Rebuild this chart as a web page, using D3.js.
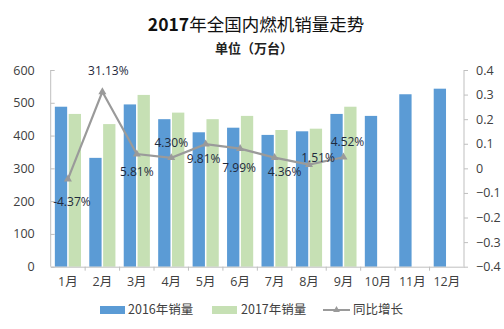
<!DOCTYPE html>
<html>
<head>
<meta charset="utf-8">
<script src="https://cdn.jsdelivr.net/npm/d3@7/dist/d3.min.js"></script>
<style>
html,body{margin:0;padding:0;background:#fff;}
svg{display:block;}
text{font-family:"Noto Sans CJK SC","Open Sans",sans-serif;}
</style>
</head>
<body>
<svg id="chart" width="504" height="329"></svg>
<script>
const months = ["1月","2月","3月","4月","5月","6月","7月","8月","9月","10月","11月","12月"];
const sales2016 = [488,332,495,450,410,424,402,413,466,460,526,543];
const sales2017 = [466,435,524,470,450,460,417,421,488];
const growth = [-0.0437,0.3113,0.0581,0.0430,0.0981,0.0799,0.0436,0.0151,0.0452];
const growthLabels = ["-4.37%","31.13%","5.81%","4.30%","9.81%","7.99%","4.36%","1.51%","4.52%"];
const leftTicks = [0,100,200,300,400,500,600];
const rightTicks = [-0.4,-0.3,-0.2,-0.1,0,0.1,0.2,0.3,0.4];
const seriesNames = ["2016年销量","2017年销量","同比增长"];
// label offsets (dx, dy) relative to point
const labelOffsets = [[4,23],[6,-21],[0,18],[0,-15],[-2,15],[-1,19],[10,14],[9,-7],[4,-15]];

const colors = {b2016:"#5b9bd5", b2017:"#c6e0b4", line:"#9a9a9a", axis:"#bfbfbf", text:"#404040", label:"#1f2a3d"};
const svg = d3.select("#chart");

const plot = {left:50.7, right:464, top:70, bottom:266.7};

const x0 = d3.scaleBand().domain(months).range([plot.left, plot.right]).padding(0);
const x1 = d3.scaleBand().domain(["2016","2017"]).range([0, x0.bandwidth()]).paddingInner(0.11).paddingOuter(0.30);
const yL = d3.scaleLinear().domain([0,600]).range([plot.bottom, plot.top]);
const yR = d3.scaleLinear().domain([-0.4,0.4]).range([plot.bottom, plot.top]);

// Title
const t = svg.append("text").attr("x",256).attr("y",30.5).attr("text-anchor","middle")
  .attr("font-size",17.5).attr("fill","#111");
t.append("tspan").attr("font-weight","bold").text("2017");
t.append("tspan").attr("font-weight","normal").text("年全国内燃机销量走势");
svg.append("text").attr("x",254).attr("y",53).attr("text-anchor","middle")
  .attr("font-size",13).attr("font-weight","bold").attr("fill","#222")
  .text("单位（万台）");

// Bars
const g = svg.append("g");
g.selectAll("rect.b16").data(sales2016).join("rect").attr("class","b16")
  .attr("x",(d,i)=>x0(months[i])+x1("2016")).attr("width",x1.bandwidth())
  .attr("y",d=>yL(d)).attr("height",d=>yL(0)-yL(d)).attr("fill",colors.b2016);
g.selectAll("rect.b17").data(sales2017).join("rect").attr("class","b17")
  .attr("x",(d,i)=>x0(months[i])+x1("2017")).attr("width",x1.bandwidth())
  .attr("y",d=>yL(d)).attr("height",d=>yL(0)-yL(d)).attr("fill",colors.b2017);

// Axes
const axL = svg.append("g").attr("transform",`translate(${plot.left},0)`)
  .call(d3.axisLeft(yL).tickValues(leftTicks).tickSize(-4).tickPadding(16));
const axR = svg.append("g").attr("transform",`translate(${plot.right},0)`)
  .call(d3.axisRight(yR).tickValues(rightTicks).tickSize(4).tickPadding(8).tickFormat(d=>d3.format("~g")(Math.round(d*10)/10)));
const axB = svg.append("g").attr("transform",`translate(0,${plot.bottom})`)
  .call(d3.axisBottom(x0).tickSize(0).tickPadding(10));
// bottom tick marks at band boundaries
svg.append("g").selectAll("line").data(months.slice(1)).join("line")
  .attr("x1",d=>x0(d)).attr("x2",d=>x0(d)).attr("y1",plot.bottom).attr("y2",plot.bottom+4)
  .attr("stroke",colors.axis);
[axL,axR,axB].forEach(a=>{
  a.selectAll("path").attr("stroke",colors.axis);
  a.selectAll("line").attr("stroke",colors.axis);
  a.selectAll("text").attr("fill",colors.text).attr("font-size",12.5)
    .style("font-family","'Open Sans','Noto Sans CJK SC',sans-serif");
});
axL.selectAll("text").attr("text-anchor","end");
axR.select("path").attr("d",`M0,${plot.top}V${plot.bottom}`);
axL.select("path").attr("d",`M0,${plot.top}V${plot.bottom}`);

// Line
const cx = i => x0(months[i]) + x0.bandwidth()/2;
const line = d3.line().x((d,i)=>cx(i)).y(d=>yR(d));
svg.append("path").datum(growth).attr("d",line).attr("fill","none")
  .attr("stroke",colors.line).attr("stroke-width",2.2);
const tri = d3.symbol().type(d3.symbolTriangle).size(28);
svg.selectAll("path.mk").data(growth).join("path").attr("class","mk")
  .attr("d",tri).attr("transform",(d,i)=>`translate(${cx(i)},${yR(d)})`).attr("fill",colors.line);

// Labels
svg.selectAll("text.lbl").data(growth).join("text").attr("class","lbl")
  .attr("x",(d,i)=>cx(i)+labelOffsets[i][0]).attr("y",(d,i)=>yR(d)+labelOffsets[i][1])
  .attr("dy","0.35em").attr("text-anchor","middle").attr("font-size",12)
  .style("font-family","'Open Sans','Noto Sans',sans-serif")
  .attr("fill",colors.label).text((d,i)=>growthLabels[i]);

// Legend
const lg = svg.append("g").attr("transform","translate(0,310)");
lg.append("rect").attr("x",100).attr("y",-4).attr("width",25).attr("height",8).attr("fill",colors.b2016);
lg.append("text").attr("x",128).attr("y",0).attr("dy","0.35em").attr("font-size",12.5).attr("fill",colors.text).text(seriesNames[0]);
lg.append("rect").attr("x",212).attr("y",-4).attr("width",25).attr("height",8).attr("fill",colors.b2017);
lg.append("text").attr("x",241).attr("y",0).attr("dy","0.35em").attr("font-size",12.5).attr("fill",colors.text).text(seriesNames[1]);
lg.append("line").attr("x1",323).attr("x2",350).attr("y1",0).attr("y2",0).attr("stroke",colors.line).attr("stroke-width",2);
lg.append("path").attr("d",d3.symbol().type(d3.symbolTriangle).size(20)).attr("transform","translate(336.5,0)").attr("fill",colors.line);
lg.append("text").attr("x",353).attr("y",0).attr("dy","0.35em").attr("font-size",12.5).attr("fill",colors.text).text(seriesNames[2]);
</script>
</body>
</html>
